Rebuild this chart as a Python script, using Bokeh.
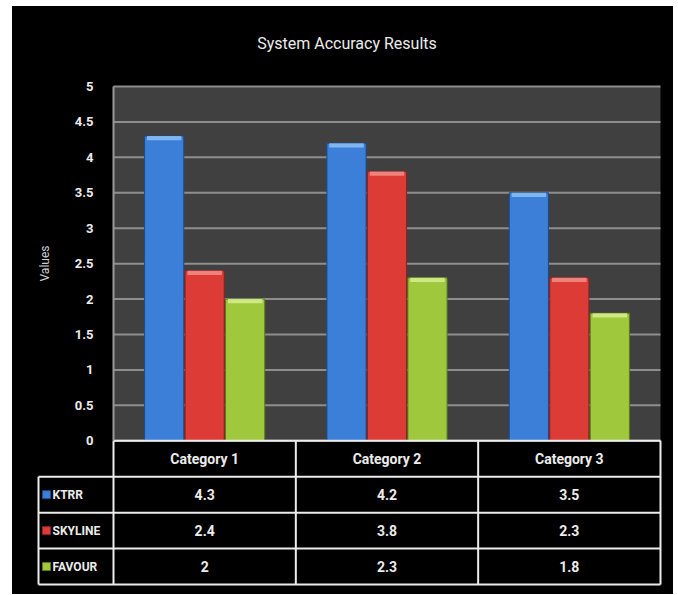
from bokeh.plotting import figure
from bokeh.models import Range1d, FixedTicker, LinearAxis
from bokeh.core.properties import value
from bokeh.embed import file_html
from bokeh.resources import INLINE

# ---- data ----
categories = ["Category 1", "Category 2", "Category 3"]
series_names = ["KTRR", "SKYLINE", "FAVOUR"]
ktrr = [4.3, 4.2, 3.5]
skyline = [2.4, 3.8, 2.3]
favour = [2.0, 2.3, 1.8]
y_ticks = [0, 0.5, 1, 1.5, 2, 2.5, 3, 3.5, 4, 4.5, 5]
y_tick_labels = ["0", "0.5", "1", "1.5", "2", "2.5", "3", "3.5", "4", "4.5", "5"]
title_text = "System Accuracy Results"
y_axis_title = "Values"

series_values = [ktrr, skyline, favour]

# ---- styles ----
fills = ["#3b7fd9", "#dc3b36", "#9fc83c"]
edges = ["#1d4a8a", "#8a2020", "#5b7a1e"]
tops = ["#8cc0f2", "#f29088", "#d6ef8f"]
FONT = "Roboto"
WHITE = "#ececec"
n = len(categories)
m = len(series_names)
BAR_W = 0.215
BAR_STEP = 0.222
PX = 182.33          # px per category unit
PY = 71.0            # px per value unit
ROW = 36 / PY        # table row height in value units
LEG = -75 / PX       # left edge of the legend column

p = figure(width=661, height=588,
           x_range=Range1d(-83 / PX, 550 / PX),
           y_range=Range1d(-150 / PY, 364 / PY),
           output_backend="svg", toolbar_location=None, title=title_text,
           x_axis_location=None, y_axis_location=None,
           min_border_left=18, min_border_right=10, min_border_top=70, min_border_bottom=4)
p.margin = (6, 0, 0, 12)
p.styles = {"background-color": "black"}
p.background_fill_color = None
p.border_fill_color = "black"
p.outline_line_color = None
p.grid.visible = False

p.title.align = "center"
p.title.standoff = 50
p.title.text_font = FONT
p.title.text_font_size = "16px"
p.title.text_font_style = "normal"
p.title.text_color = WHITE

# chart area background and grid lines
p.quad(left=[0], right=[n], bottom=[y_ticks[0]], top=[y_ticks[-1]],
       fill_color="#404040", line_color=None)
p.segment(x0=[0] * len(y_ticks), x1=[n] * len(y_ticks), y0=y_ticks, y1=y_ticks,
          line_color="#8e8e8e", line_width=2)

# y axis drawn at the chart's left edge
yax = LinearAxis(fixed_location=0, bounds=(y_ticks[0], y_ticks[-1]),
                 ticker=FixedTicker(ticks=y_ticks))
yax.major_label_overrides = {t: l for t, l in zip(y_ticks, y_tick_labels)}
yax.major_label_text_font = FONT
yax.major_label_text_font_size = "13px"
yax.major_label_text_font_style = "bold"
yax.major_label_text_color = WHITE
yax.major_label_standoff = 14
yax.major_tick_line_color = None
yax.minor_tick_line_color = None
yax.axis_line_color = "#9a9a9a"
yax.axis_line_width = 2
yax.axis_label = y_axis_title
yax.axis_label_text_font = FONT
yax.axis_label_text_font_size = "12px"
yax.axis_label_text_font_style = "normal"
yax.axis_label_text_color = "#d0d0d0"
yax.axis_label_standoff = 20
p.add_layout(yax, "left")

# bars
for j, vals in enumerate(series_values):
    xs = [i + 0.5 + (j - (m - 1) / 2) * BAR_STEP for i in range(n)]
    p.vbar(x=xs, top=vals, bottom=0, width=BAR_W, fill_color=fills[j],
           line_color=edges[j], line_width=1)
    p.vbar(x=xs, top=vals, bottom=[v - 0.06 for v in vals], width=BAR_W * 0.88,
           fill_color=tops[j], line_color=None, fill_alpha=0.85)

# ---- data table under the chart ----
bottom = -(m + 1) * ROW
vx = list(range(n + 1))
p.segment(x0=vx, x1=vx, y0=[0] * len(vx), y1=[bottom] * len(vx),
          line_color=WHITE, line_width=2)
p.segment(x0=[LEG], x1=[LEG], y0=[-ROW], y1=[bottom], line_color=WHITE, line_width=2)
p.segment(x0=[0], x1=[n], y0=[0], y1=[0], line_color=WHITE, line_width=2)
hy = [-(r + 1) * ROW for r in range(m + 1)]
p.segment(x0=[LEG] * len(hy), x1=[n] * len(hy), y0=hy, y1=hy, line_color=WHITE, line_width=2)

p.text(x=[k + 0.5 for k in range(n)], y=[-0.5 * ROW] * n, text=categories,
       text_font=value(FONT), text_font_size="14px", text_font_style="bold",
       text_color=WHITE, text_align="center", text_baseline="middle")

for j, vals in enumerate(series_values):
    yrow = -(j + 1.5) * ROW
    p.text(x=[k + 0.5 for k in range(n)], y=[yrow] * n, text=[f"{v:g}" for v in vals],
           text_font=value(FONT), text_font_size="14px", text_font_style="bold",
           text_color=WHITE, text_align="center", text_baseline="middle")
    p.scatter(x=[LEG + 8 / PX], y=[yrow], marker="square", size=8,
              fill_color=fills[j], line_color=edges[j])
    p.text(x=[LEG + 14 / PX], y=[yrow], text=[series_names[j]],
           text_font=value(FONT), text_font_size="12px", text_font_style="bold",
           text_color=WHITE, text_align="left", text_baseline="middle")

open("out.html", "w").write(file_html(p, INLINE))
